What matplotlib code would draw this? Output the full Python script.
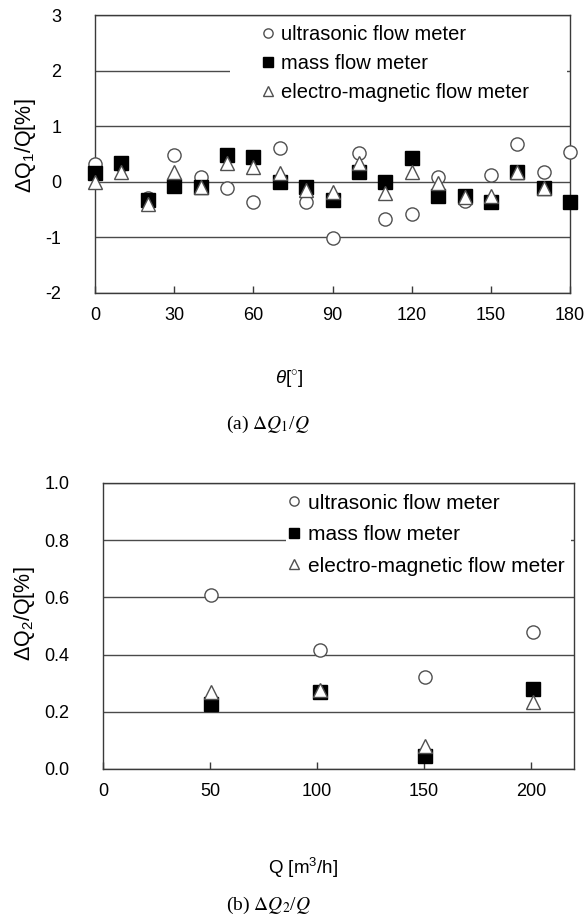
import matplotlib
matplotlib.use("Agg")
import matplotlib.pyplot as plt
from matplotlib.patches import Rectangle

plt.rcParams['font.family'] = ['Liberation Sans', 'DejaVu Sans']
plt.rcParams['mathtext.fontset'] = 'custom'
plt.rcParams['mathtext.rm'] = 'Liberation Sans'
plt.rcParams['mathtext.it'] = 'Liberation Sans:italic'
plt.rcParams['axes.unicode_minus'] = False

# ---- data (a) ----
theta = [0, 10, 20, 30, 40, 50, 60, 70, 80, 90, 100, 110, 120, 130, 140, 150, 160, 170, 180]
ultra_a = [0.32, 0.30, -0.30, 0.48, 0.09, -0.12, -0.36, 0.60, -0.36, -1.01, 0.52, -0.67, -0.58, 0.09, -0.35, 0.13, 0.68, 0.17, 0.53]
mass_a = [0.16, 0.34, -0.33, -0.07, -0.10, 0.48, 0.45, 0.00, -0.09, -0.32, 0.17, 0.00, 0.42, -0.26, -0.25, -0.36, 0.17, -0.11, -0.36]
theta_em = [0, 10, 20, 30, 40, 50, 60, 70, 80, 90, 100, 110, 120, 130, 140, 150, 160, 170]
em_a = [0.00, 0.18, -0.40, 0.18, -0.10, 0.34, 0.27, 0.15, -0.15, -0.18, 0.33, -0.21, 0.18, -0.02, -0.28, -0.26, 0.17, -0.12]

# ---- data (b) ----
flow = [50.5, 101.5, 150.5, 201]
ultra_b = [0.61, 0.416, 0.323, 0.479]
mass_b = [0.226, 0.268, 0.047, 0.279]
em_b = [0.27, 0.276, 0.08, 0.235]

labels = ['ultrasonic flow meter', 'mass flow meter', 'electro-magnetic flow meter']
grid_c = '#4a4a4a'
spine_c = '#3a3a3a'

fig = plt.figure(figsize=(5.86, 9.17), dpi=100)
ax1 = fig.add_axes([0.162, 0.6805, 0.811, 0.3031])
ax2 = fig.add_axes([0.1758, 0.1614, 0.8037, 0.3119])


def style(ax, legbox, anchor, rowspace, fs):
    ax.set_axisbelow(True)
    ax.yaxis.grid(True, color=grid_c, lw=1.0)
    for s in ax.spines.values():
        s.set_color(spine_c)
        s.set_linewidth(1.0)
    ax.tick_params(axis='x', direction='in', length=5, width=1, color=spine_c,
                   labelsize=13, pad=10)
    ax.tick_params(axis='y', length=0, labelsize=13, pad=24)
    ax.add_patch(Rectangle(legbox[:2], legbox[2], legbox[3], transform=ax.transAxes,
                           facecolor='white', edgecolor='none', zorder=1))
    leg = ax.legend(loc='upper left', bbox_to_anchor=anchor, frameon=False,
                    fontsize=fs, handlelength=0.6, handletextpad=0.35,
                    borderpad=0, borderaxespad=0, labelspacing=rowspace,
                    markerscale=0.7)
    leg.set_zorder(5)


mk = dict(linestyle='none', zorder=3, clip_on=False)
ax1.plot(theta, ultra_a, marker='o', ms=9.5, mfc='white', mec='#505050', mew=1.0, label=labels[0], **mk)
ax1.plot(theta, mass_a, marker='s', ms=9.5, mfc='black', mec='black', mew=1.0, label=labels[1], **mk)
ax1.plot(theta_em, em_a, marker='^', ms=9.5, mfc='white', mec='#505050', mew=1.0, label=labels[2], **mk)
ax1.set_xlim(0, 180)
ax1.set_ylim(-2, 3)
ax1.set_xticks([0, 30, 60, 90, 120, 150, 180])
ax1.set_yticks([-2, -1, 0, 1, 2, 3])
style(ax1, (0.284, 0.64, 0.71, 0.35), (0.352, 0.963), 0.48, 14.5)
ax1.set_xlabel(r'$\it{\theta}$[$^{\circ}$]', fontsize=13.5, va='center')
ax1.xaxis.set_label_coords(0.408, -0.313)
ax1.set_ylabel(r'$\Delta$Q$_1$/Q[%]', fontsize=15.5, va='center')
ax1.yaxis.set_label_coords(-0.147, 0.529)

ax2.plot(flow, ultra_b, marker='o', ms=9.5, mfc='white', mec='#505050', mew=1.0, label=labels[0], **mk)
ax2.plot(flow, mass_b, marker='s', ms=9.5, mfc='black', mec='black', mew=1.0, label=labels[1], **mk)
ax2.plot(flow, em_b, marker='^', ms=9.5, mfc='white', mec='#505050', mew=1.0, label=labels[2], **mk)
ax2.set_xlim(0, 220)
ax2.set_ylim(0, 1.0)
ax2.set_xticks([0, 50, 100, 150, 200])
ax2.set_yticks([0.0, 0.2, 0.4, 0.6, 0.8, 1.0])
ax2.set_yticklabels(['0.0', '0.2', '0.4', '0.6', '0.8', '1.0'])
style(ax2, (0.389, 0.63, 0.605, 0.36), (0.393, 0.963), 0.6, 15)
ax2.set_xlabel('Q [m$^3$/h]', fontsize=13.5, va='center')
ax2.xaxis.set_label_coords(0.425, -0.346)
ax2.set_ylabel(r'$\Delta$Q$_2$/Q[%]', fontsize=15.5, va='center')
ax2.yaxis.set_label_coords(-0.166, 0.542)

serif = ['Liberation Serif', 'DejaVu Serif']
fig.text(268 / 586, 1 - 424 / 917, r'(a) $\mathit{\Delta Q}$$_{\rm 1}$/$\mathit{Q}$', ha='center', va='center',
         fontsize=14, family=serif, math_fontfamily='stix')
fig.text(268 / 586, 1 - 905 / 917, r'(b) $\mathit{\Delta Q}$$_{\rm 2}$/$\mathit{Q}$', ha='center', va='center',
         fontsize=14, family=serif, math_fontfamily='stix')

fig.savefig('out.png', dpi=100, facecolor='white')
